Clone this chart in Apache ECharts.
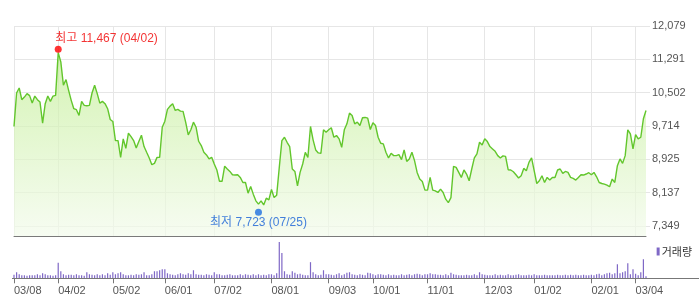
<!DOCTYPE html>
<html>
<head>
<meta charset="utf-8">
<script src="https://cdn.jsdelivr.net/npm/echarts@6/dist/echarts.min.js"></script>
<style>
html,body{margin:0;padding:0;background:#fff;}
#chart{width:699px;height:304px;}
</style>
</head>
<body>
<div id="chart"></div>
<script>
// ---- Data ----
const startDate = '2018-03-08';
const endDate = '2019-03-08';
const holidays = ['2018-05-01','2018-05-07','2018-05-22','2018-06-06','2018-06-13','2018-08-15',
  '2018-09-24','2018-09-25','2018-09-26','2018-10-03','2018-10-09','2018-12-25','2018-12-31',
  '2019-01-01','2019-02-04','2019-02-05','2019-02-06','2019-03-01'];

// closing prices (one per trading day)
const prices = [
 9702,10494,10612,10337,10398,10479,10432,10256,10422,10337,10280,9780,10242,10422,10296,10422,10439,
 11450,11230,10677,10812,10558,10320,10123,10099,9963,10296,10201,10194,10201,10494,10677,10479,10256,10296,10242,10123,9868,
 9821,9369,9369,8972,9410,9186,9543,9464,9369,9196,9345,9495,9227,9091,8958,8799,8830,8972,8972,9685,
 9828,10106,10184,10242,10082,10106,10066,10059,9804,9505,9624,9804,9685,9353,9250,9091,9029,8934,8972,
 8815,8673,8406,8406,8763,8697,8639,8561,8554,8561,8497,8378,8378,8126,8283,8102,7943,7865,7943,7848,8007,7967,
 8212,8021,8078,8735,9369,9448,9329,9227,8697,8639,8300,8616,8815,9091,8972,9702,9386,9148,9077,9067,9624,9567,
 9624,9671,9448,9488,9410,9210,9624,9766,10018,9963,9766,9804,9726,9909,9916,9899,9631,
 9790,9726,9448,9305,9291,9091,8958,9067,9013,9013,9036,8918,9148,8877,8934,9091,8894,8616,8459,8402,8197,
 8197,8497,8197,8181,8140,8221,8140,7983,7902,8021,8758,8735,8616,8497,8673,8578,8418,8697,8958,9053,9329,9267,
 9410,9345,9227,9172,9115,9013,8958,9006,8996,8680,8673,8632,8561,8483,8537,8711,8656,8853,8958,
 8656,8354,8418,8537,8378,8497,8435,8497,8497,8673,8697,8592,8639,8616,8497,8473,8435,8497,8561,8554,8578,8609,
 8561,8616,8513,8378,8354,8340,8316,8276,8459,8378,8775,8934,8830,9013,9624,9528,9172,
 9512,9410,9448,9885,10082
];

// trading volume (10,000 shares)
const volumes = [
 3.5,6,4,3,3,2.5,3,3,3,4,3,5,4,3,3,2.5,3,
 15.5,7,4,3,3.5,3.5,3,4,3,3,2.5,6,4,3.5,3,4,3,4,3,5,3.5,
 6,4,5,6,4,3,3,3.5,3,4,3.5,4,6,3,3,4,7,7,8,9,
 9,5,4,3.5,3,4,5,4,3.5,5,4,8,4,3.5,3.5,3,4,3.5,3,
 6,4,4,3,3,3.5,4,3,3,3,4,3,4,3.5,3,4,3,4,3,3.5,3,4,
 4,3,5,36,25,7,4,3.5,7,5.5,4,4.5,3.5,3,3,16,6,4,3,3.5,8,4,
 4,3.5,3,4,5,3,4,5.5,6,4,3.5,3,4,3.5,3,5.5,5,
 4,3,4,4,3.5,3,4,3,3.5,3,3,4,3,3.5,4,3,4,4.5,4,3,4,
 4,5,4,4,3.5,3.5,3,4,3,5.5,4,3.5,3,3,3,3.5,3,3,4,3,6,4,
 3.5,3,3,3,4,3,3.5,3,3,4,3,3,3.5,4,3,3,3,3.5,3,
 4,3,3,3,3.5,3,3,3,3,3.5,3,3,3.5,3,3.5,3,3.5,3,3,3.5,3,3,
 3.5,3,4,4.5,3,4,5,5.5,4,5,14,5,6,7,15,4,9,
 4.5,3,6,19,2
];

const tickDates = ['2018-03-08','2018-04-02','2018-05-02','2018-06-01','2018-07-02','2018-08-01',
  '2018-09-03','2018-10-01','2018-11-01','2018-12-03','2019-01-02','2019-02-01','2019-03-04'];
const priceTicks = [7349, 8137, 8925, 9714, 10502, 11291, 12079];
const highPoint = { date: '2018-04-02', value: 11467, label: '최고' };
const lowPoint = { date: '2018-07-25', value: 7723, label: '최저' };

// ---- trading-day categories ----
const dates = [];
(function () {
  const hol = new Set(holidays);
  let d = new Date(startDate + 'T00:00:00Z');
  const end = new Date(endDate + 'T00:00:00Z');
  while (d <= end) {
    const wd = d.getUTCDay();
    const s = d.toISOString().slice(0, 10);
    if (wd !== 0 && wd !== 6 && !hol.has(s)) dates.push(s);
    d = new Date(d.getTime() + 86400000);
  }
})();

const tickSet = new Set(tickDates);
const isTick = (idx, val) => tickSet.has(val !== undefined ? val : dates[idx]);
const mmdd = s => s.slice(5, 7) + '/' + s.slice(8, 10);
const fmt = v => Math.round(v).toLocaleString('en-US');

const chart = echarts.init(document.getElementById('chart'), null, { renderer: 'canvas' });
const font = '"Liberation Sans", Arial, "Noto Sans CJK KR", sans-serif';

chart.setOption({
  animation: false,
  backgroundColor: '#fff',
  legend: {
    data: ['거래량'],
    right: 2, top: 241,
    icon: 'rect', itemWidth: 3, itemHeight: 8, itemGap: 0,
    textStyle: { fontSize: 11, color: '#333', fontFamily: '"Noto Sans CJK KR", sans-serif', padding: [0, 0, 0, -3] }
  },
  grid: [
    { left: 14, right: 53, top: 26, height: 210 },
    { left: 14, right: 53, top: 242, height: 36.3 }
  ],
  xAxis: [
    {
      type: 'category', gridIndex: 0, data: dates, boundaryGap: false,
      axisLine: { show: true, onZero: false, lineStyle: { color: '#7a7a7a', width: 1 } },
      axisTick: { show: false },
      axisLabel: { show: false },
      splitLine: { show: true, interval: (i, v) => isTick(i, v), lineStyle: { color: '#e6e6e6', width: 1 } }
    },
    {
      type: 'category', gridIndex: 1, data: dates, boundaryGap: false,
      axisLine: { show: false },
      axisTick: { show: true, interval: (i, v) => isTick(i, v), length: 5, lineStyle: { color: '#777' } },
      axisLabel: {
        show: true, interval: (i, v) => isTick(i, v), formatter: v => mmdd(v),
        align: 'left', margin: 7, color: '#555', fontSize: 11, fontFamily: font
      },
      splitLine: { show: false }
    }
  ],
  yAxis: [
    {
      type: 'value', gridIndex: 0, position: 'right', min: 7112, max: 12079, scale: true,
      axisLine: { show: false },
      axisTick: { show: true, customValues: priceTicks, length: 4, lineStyle: { color: '#e6e6e6' } },
      axisLabel: { customValues: priceTicks, formatter: v => fmt(v), margin: 6, color: '#555', fontSize: 11, fontFamily: font },
      splitLine: { show: true, lineStyle: { color: '#e6e6e6' } }
    },
    {
      type: 'value', gridIndex: 1, min: 0, max: 36, show: false,
      splitLine: { show: false }
    }
  ],
  graphic: [
    { type: 'line', shape: { x1: 12, y1: 278.5, x2: 699, y2: 278.5 }, style: { stroke: '#777', lineWidth: 1 }, z: 10 }
  ],
  series: [
    {
      name: '종가', type: 'line', xAxisIndex: 0, yAxisIndex: 0, data: prices,
      showSymbol: false, symbol: 'none',
      lineStyle: { color: '#62c62c', width: 1.4 },
      areaStyle: {
        origin: 'start',
        color: new echarts.graphic.LinearGradient(0, 0, 0, 1, [
          { offset: 0, color: '#c2ee94' },
          { offset: 1, color: '#f3fbec' }
        ])
      },
      z: 2
    },
    {
      name: 'marks', type: 'scatter', xAxisIndex: 0, yAxisIndex: 0, z: 5,
      data: [
        {
          value: [highPoint.date, highPoint.value], symbolSize: 7, symbolOffset: [0, -2.5],
          itemStyle: { color: '#ff0000' },
          label: {
            show: true, position: 'top', align: 'left', distance: 1, offset: [-3, 0],
            formatter: highPoint.label + ' ' + fmt(highPoint.value) + ' (' + mmdd(highPoint.date) + ')',
            color: '#f00000', fontSize: 12, fontFamily: font
          }
        },
        {
          value: [lowPoint.date, lowPoint.value], symbolSize: 7, symbolOffset: [0, 2],
          itemStyle: { color: '#1d6fe0' },
          label: {
            show: true, position: 'bottom', distance: 1,
            formatter: lowPoint.label + ' ' + fmt(lowPoint.value) + ' (' + mmdd(lowPoint.date) + ')',
            color: '#1560d6', fontSize: 12, fontFamily: font
          }
        }
      ]
    },
    {
      name: '거래량', type: 'bar', xAxisIndex: 1, yAxisIndex: 1, data: volumes,
      barWidth: 1.2, itemStyle: { color: '#7f68c6' }
    }
  ]
});
</script>
</body>
</html>
